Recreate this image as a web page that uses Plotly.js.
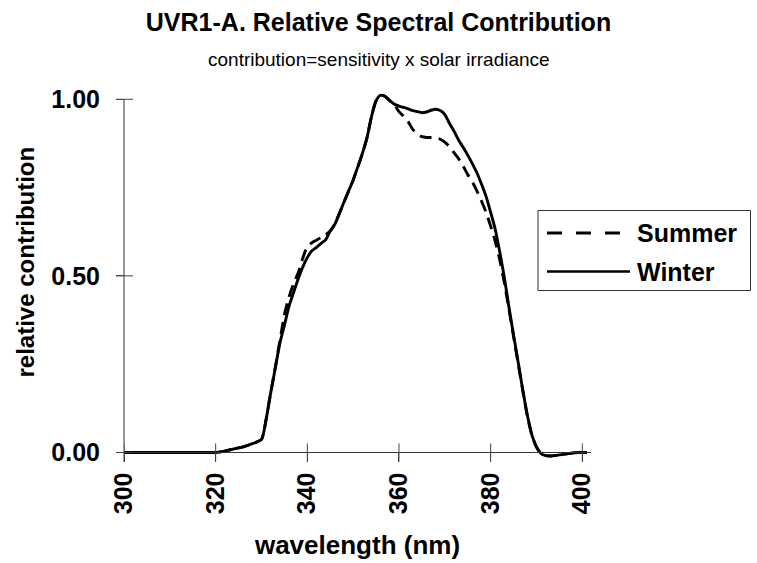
<!DOCTYPE html>
<html>
<head>
<meta charset="utf-8">
<script src="https://cdn.plot.ly/plotly-3.0.1.min.js"></script>
<style>html,body{margin:0;padding:0;background:#fff;}#chart{width:757px;height:563px;}</style>
</head>
<body>
<div id="chart"></div>
<script>
// ---- data ----
const wavelength = [300, 305, 310, 315, 320, 322, 324, 326, 328, 330, 331, 332, 333, 334, 335, 336, 337, 338, 339, 340,
  341, 342, 343, 344, 345, 346, 347, 348, 349, 350, 351, 352, 353, 354, 355, 356, 357, 358, 359, 360,
  361, 362, 363, 364, 365, 366, 367, 368, 369, 370, 371, 372, 373, 374, 375, 376, 377, 378, 379, 380,
  381, 382, 383, 384, 385, 386, 387, 388, 389, 390, 391, 392, 393, 394, 395, 396, 397, 398, 399, 400, 401];

const summer = [0, 0, 0, 0, 0, 0.004, 0.010, 0.016, 0.025, 0.037, 0.093, 0.168, 0.240, 0.315, 0.390, 0.440, 0.478, 0.508, 0.550, 0.583,
  0.594, 0.601, 0.609, 0.617, 0.627, 0.646, 0.677, 0.709, 0.740, 0.771, 0.808, 0.846, 0.890, 0.951, 0.996, 1.012, 1.008, 0.996, 0.984, 0.965,
  0.952, 0.937, 0.915, 0.902, 0.894, 0.892, 0.892, 0.891, 0.887, 0.879, 0.866, 0.849, 0.832, 0.811, 0.787, 0.766, 0.741, 0.712, 0.680, 0.641,
  0.598, 0.545, 0.480, 0.405, 0.328, 0.252, 0.176, 0.104, 0.049, 0.015, -0.003, -0.009, -0.010, -0.009, -0.007, -0.005, -0.003, -0.001, 0, 0, 0];

const winter = [0, 0, 0, 0, 0, 0.004, 0.010, 0.016, 0.025, 0.037, 0.093, 0.168, 0.238, 0.309, 0.360, 0.414, 0.453, 0.491, 0.525, 0.552,
  0.571, 0.581, 0.592, 0.602, 0.627, 0.646, 0.677, 0.709, 0.740, 0.771, 0.808, 0.846, 0.890, 0.951, 0.996, 1.012, 1.008, 0.996, 0.986, 0.981,
  0.977, 0.973, 0.968, 0.965, 0.962, 0.964, 0.969, 0.972, 0.968, 0.957, 0.932, 0.910, 0.885, 0.864, 0.842, 0.818, 0.792, 0.760, 0.725, 0.680,
  0.632, 0.567, 0.495, 0.411, 0.333, 0.256, 0.178, 0.106, 0.050, 0.016, -0.003, -0.009, -0.010, -0.009, -0.007, -0.005, -0.003, -0.001, 0, 0, 0];

const seriesNames = ['Summer', 'Winter'];
const xTickVals = [300, 320, 340, 360, 380, 400];
const yTickVals = [0, 0.5, 1];
const chartTitle = 'UVR1-A. Relative Spectral Contribution';
const chartSubtitle = 'contribution=sensitivity x solar irradiance';
const xTitle = 'wavelength (nm)';
const yTitle = 'relative contribution';

// ---- layout geometry ----
const W = 757, H = 563;
const M = {l: 124, r: 166, t: 94, b: 101};
const xRange = [300, 401.9];
const yRange = [-0.027, 1.015];
const PW = W - M.l - M.r, PH = H - M.t - M.b;
const px2x = p => (p - M.l) / PW;           // pixel -> paper x
const py2y = p => (H - M.b - p) / PH;       // pixel -> paper y
const zeroPos = (0 - yRange[0]) / (yRange[1] - yRange[0]);

const FONT = 'Liberation Sans, Arial, Helvetica, sans-serif';
const axisCol = '#333';
const tickCol = '#444';

const traces = [
  {x: wavelength, y: summer, name: seriesNames[0], type: 'scatter', mode: 'lines',
   line: {color: '#000', width: 2.9, dash: '12px,7px', shape: 'spline', smoothing: 0.6}, showlegend: false},
  {x: wavelength, y: winter, name: seriesNames[1], type: 'scatter', mode: 'lines',
   line: {color: '#000', width: 2.9, shape: 'spline', smoothing: 0.6}, showlegend: false}
];

const tickFont = {family: FONT, size: 25, color: '#000', weight: 700};

// cross-style tick marks (Excel style), placed through the axes
const tickShapes = [];
xTickVals.forEach(v => tickShapes.push({type: 'line', xref: 'x', yref: 'paper', ysizemode: 'pixel', yanchor: zeroPos,
  x0: v, x1: v, y0: -9, y1: 9, line: {color: tickCol, width: 1}}));
yTickVals.forEach(v => tickShapes.push({type: 'line', xref: 'paper', yref: 'y', xsizemode: 'pixel', xanchor: 0,
  x0: -8, x1: 9, y0: v, y1: v, line: {color: tickCol, width: 1}}));

const layout = {
  width: W, height: H,
  margin: M,
  paper_bgcolor: '#fff', plot_bgcolor: '#fff',
  showlegend: false,
  title: {text: chartTitle, font: {family: FONT, size: 25, color: '#000', weight: 700},
          x: 0.5, xref: 'container', xanchor: 'center', y: 1 - 22.5 / H, yref: 'container', yanchor: 'middle'},
  xaxis: {range: xRange, anchor: 'free', position: zeroPos, showgrid: false, zeroline: false,
          showline: true, linecolor: axisCol, linewidth: 1,
          ticks: 'outside', ticklen: 9, tickwidth: 1, tickcolor: tickCol,
          tickvals: xTickVals, ticktext: xTickVals.map(String), tickangle: -90,
          tickfont: tickFont, ticklabelstandoff: 0,
          title: {text: xTitle, font: {family: FONT, size: 26, color: '#000', weight: 700}, standoff: 22}},
  yaxis: {range: yRange, anchor: 'free', position: 0, showgrid: false, zeroline: false,
          showline: false,
          ticks: 'outside', ticklen: 8, tickwidth: 1, tickcolor: tickCol,
          tickvals: yTickVals, tickformat: '.2f', tickfont: tickFont, ticklabelstandoff: 11},
  shapes: [
    // y axis line from the bottom of the frame up to 1.00
    {type: 'line', xref: 'paper', yref: 'y', x0: 0, x1: 0, y0: yRange[0], y1: 1,
     line: {color: axisCol, width: 1}},
    ...tickShapes,
    // legend box
    {type: 'rect', xref: 'paper', yref: 'paper', x0: px2x(538), x1: px2x(750.5), y0: py2y(290.5), y1: py2y(210.5),
     line: {color: '#333', width: 1}, fillcolor: '#fff'},
    {type: 'line', xref: 'paper', yref: 'paper', x0: px2x(547), x1: px2x(621), y0: py2y(233), y1: py2y(233),
     line: {color: '#000', width: 3, dash: '15px,14px'}},
    {type: 'line', xref: 'paper', yref: 'paper', x0: px2x(547), x1: px2x(630), y0: py2y(271.5), y1: py2y(271.5),
     line: {color: '#000', width: 2.5}}
  ],
  annotations: [
    {text: chartSubtitle, xref: 'paper', yref: 'paper', x: px2x(378.5), y: py2y(59), xanchor: 'center', yanchor: 'middle',
     showarrow: false, font: {family: FONT, size: 19, color: '#000'}},
    {text: yTitle, xref: 'paper', yref: 'paper', x: px2x(25), y: py2y(262.5), xanchor: 'center', yanchor: 'middle',
     textangle: -90, showarrow: false, font: {family: FONT, size: 24, color: '#000', weight: 700}},
    {text: seriesNames[0], xref: 'paper', yref: 'paper', x: px2x(635), y: py2y(233), xanchor: 'left', yanchor: 'middle',
     showarrow: false, font: {family: FONT, size: 25, color: '#000', weight: 700}},
    {text: seriesNames[1], xref: 'paper', yref: 'paper', x: px2x(635), y: py2y(271.5), xanchor: 'left', yanchor: 'middle',
     showarrow: false, font: {family: FONT, size: 25, color: '#000', weight: 700}}
  ]
};

Plotly.newPlot('chart', traces, layout, {displayModeBar: false, staticPlot: true});
</script>
</body>
</html>
